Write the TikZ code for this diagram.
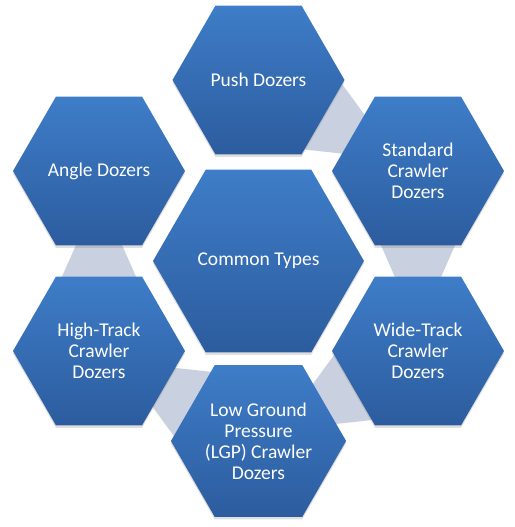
\documentclass[tikz,border=0pt]{standalone}
\usepackage{fontspec}
\setmainfont{Carlito}
\usetikzlibrary{shapes.geometric,shadows,backgrounds,calc}
\definecolor{hextop}{RGB}{62,125,200}
\definecolor{hexbot}{RGB}{44,92,158}
\definecolor{linkgray}{RGB}{201,208,224}

\begin{document}
\begin{tikzpicture}[x=1pt,y=1pt]
    \tikzstyle{hexa}=[regular polygon, regular polygon sides=6, minimum size=172pt, inner sep=0pt, top color=hextop, bottom color=hexbot, text=white, align=center, font=\fontsize{19.5}{21}\selectfont, drop shadow={shadow xshift=0pt, shadow yshift=-2.5pt, opacity=0.25}]
    \tikzstyle{link}=[fill=linkgray]
    \useasboundingbox (-258.5,-266) rectangle (255.5,261);
    \draw (0,0) node[hexa, minimum size=211pt] (common) {Common Types};
    \draw (0,181) node[hexa] (push) {Push Dozers};
    \draw (159.5,90) node[hexa] (standard) {Standard\\Crawler\\Dozers};
    \draw (159.5,-90) node[hexa] (wide) {Wide-Track\\Crawler\\Dozers};
    \draw (0,-180) node[hexa] (lgp) {Low Ground\\Pressure\\(LGP) Crawler\\Dozers};
    \draw (-159.5,-90) node[hexa] (hightrack) {High-Track\\Crawler\\Dozers};
    \draw (-159.5,90) node[hexa] (angle) {Angle Dozers};
    % bands between neighbours, behind the hexagons
    \begin{scope}[on background layer]
    \foreach \a/\b/\ang in {standard/wide/0, push/standard/60, angle/hightrack/180, hightrack/lgp/240, lgp/wide/300}
        \fill[link, shift={($(\a)!0.5!(\b)$)}, rotate=\ang] (-12.5,-40) -- (12.5,-40) -- (47.7,40) -- (-47.7,40) -- cycle;
    \end{scope}
\end{tikzpicture}
\end{document}
